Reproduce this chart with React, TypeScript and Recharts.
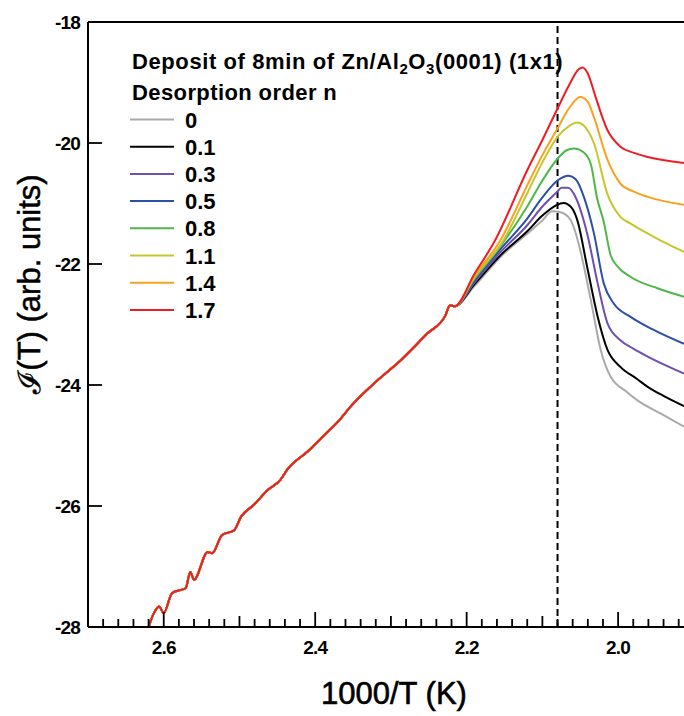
import React from 'react';
import { LineChart, Line, XAxis, YAxis, ReferenceLine, Legend } from 'recharts';

// desorption orders and their trace colours
const orders = ['0', '0.1', '0.3', '0.5', '0.8', '1.1', '1.4', '1.7'];
const colors = ['#aaaaaa', '#000000', '#6f4fb2', '#2c50a8', '#4db848', '#c6c62c', '#f8a11c', '#ee1d25'];

// low-temperature part, common to all orders: [1000/T, J(T)]
const sharedRise = [
  [2.62, -28.0], [2.613, -27.77], [2.606, -27.66], [2.6, -27.77], [2.589, -27.44],
  [2.578, -27.39], [2.571, -27.36], [2.565, -27.09], [2.56, -27.22], [2.542, -26.76],
  [2.536, -26.78], [2.523, -26.48], [2.507, -26.4], [2.498, -26.18], [2.481, -25.98],
  [2.463, -25.74], [2.446, -25.57], [2.437, -25.4], [2.41, -25.1], [2.388, -24.83],
  [2.366, -24.55], [2.357, -24.41], [2.322, -23.97], [2.287, -23.59], [2.252, -23.15],
  [2.228, -22.85], [2.222, -22.68], [2.216, -22.7],
];

// peak and high-temperature part, one per order
const tail0 = [
  [2.19, -22.37], [2.155, -21.88], [2.12, -21.5], [2.1, -21.28], [2.087, -21.13], [2.075, -21.15],
  [2.063, -21.27], [2.057, -21.45], [2.05, -21.77], [2.036, -22.6], [2.023, -23.42], [2.01, -23.86],
  [1.99, -24.1], [1.975, -24.25], [1.944, -24.47], [1.913, -24.69],
];
const tail01 = [
  [2.19, -22.34], [2.155, -21.85], [2.12, -21.46], [2.1, -21.2], [2.082, -21.03], [2.072, -20.99],
  [2.062, -21.06], [2.054, -21.27], [2.041, -22.04], [2.027, -22.87], [2.014, -23.42], [1.997, -23.7],
  [1.975, -23.9], [1.961, -24.03], [1.94, -24.18], [1.913, -24.35],
];
const tail03 = [
  [2.19, -22.31], [2.155, -21.8], [2.12, -21.36], [2.1, -21.05], [2.08, -20.8], [2.075, -20.74],
  [2.066, -20.74], [2.056, -20.9], [2.041, -21.49], [2.027, -22.32], [2.014, -22.98], [1.997, -23.26],
  [1.98, -23.4], [1.961, -23.53], [1.913, -23.81],
];
const tail05 = [
  [2.19, -22.28], [2.155, -21.75], [2.12, -21.25], [2.1, -20.9], [2.08, -20.62], [2.066, -20.54],
  [2.056, -20.6], [2.045, -20.9], [2.032, -21.49], [2.019, -22.32], [2.006, -22.65], [1.984, -22.87],
  [1.953, -23.09], [1.913, -23.32],
];
const tail08 = [
  [2.19, -22.25], [2.155, -21.7], [2.12, -21.05], [2.1, -20.62], [2.08, -20.26], [2.068, -20.12],
  [2.058, -20.09], [2.046, -20.15], [2.036, -20.35], [2.028, -20.9], [2.019, -21.3], [2.01, -21.85],
  [2.0, -22.05], [1.984, -22.21], [1.948, -22.4], [1.913, -22.54],
];
const tail11 = [
  [2.19, -22.22], [2.151, -21.6], [2.12, -20.83], [2.1, -20.32], [2.08, -19.9], [2.065, -19.72],
  [2.054, -19.66], [2.044, -19.73], [2.032, -20.0], [2.014, -20.85], [1.997, -21.22], [1.984, -21.33],
  [1.953, -21.55], [1.913, -21.8],
];
const tail14 = [
  [2.19, -22.2], [2.155, -21.6], [2.12, -20.7], [2.1, -20.2], [2.08, -19.76], [2.065, -19.43],
  [2.05, -19.24], [2.04, -19.32], [2.032, -19.57], [2.014, -20.28], [1.997, -20.67], [1.98, -20.8],
  [1.961, -20.89], [1.913, -21.02],
];
const tail17 = [
  [2.19, -22.17], [2.162, -21.6], [2.12, -20.45], [2.1, -19.95], [2.08, -19.43], [2.065, -19.05],
  [2.052, -18.78], [2.047, -18.75], [2.04, -18.85], [2.03, -19.23], [2.014, -19.79], [1.997, -20.06],
  [1.98, -20.16], [1.961, -20.23], [1.913, -20.33],
];
const tails = [tail0, tail01, tail03, tail05, tail08, tail11, tail14, tail17];

const yTicks = [-28, -26, -24, -22, -20, -18];
const xLabelled = [2.6, 2.4, 2.2, 2.0];
const peakMarker = 2.08;

const xTicks: number[] = [];
for (let h = 192; h <= 270; h += 2) xTicks.push(h / 100);

const font = 'Liberation Sans, Arial, Helvetica, sans-serif';

const series = orders.map((name, i) => ({
  name,
  color: colors[i],
  data: [...sharedRise, ...tails[i]].map(([x, y]) => ({ x, y })),
}));

function XTick({ x, y, payload }: any) {
  const h = Math.round(payload.value * 100);
  const len = h % 20 === 0 ? 15 : h % 10 === 0 ? 11 : 8;
  const labelled = xLabelled.some((v) => Math.round(v * 100) === h);
  return (
    <g>
      <line x1={x} x2={x} y1={y} y2={y - len} stroke="#000" strokeWidth={1.8} />
      {labelled && (
        <text x={x} y={y + 27} textAnchor="middle" fontFamily={font} fontWeight="bold" fontSize={19}
          letterSpacing={-0.8} fill="#000">
          {payload.value.toFixed(1)}
        </text>
      )}
    </g>
  );
}

function YTick({ x, y, payload }: any) {
  return (
    <g>
      <line x1={x} x2={x + 14} y1={y} y2={y} stroke="#000" strokeWidth={1.8} />
      <text x={x - 8} y={y + 7} textAnchor="end" fontFamily={font} fontWeight="bold" fontSize={19}
        letterSpacing={-0.8} fill="#000">
        {payload.value}
      </text>
    </g>
  );
}

function YLabel({ viewBox }: any) {
  const cx = 40;
  const cy = viewBox.y + 262;
  return (
    <text x={cx} y={cy} transform={`rotate(-90 ${cx} ${cy})`} textAnchor="middle" fontFamily={font}
      fontSize={31} fill="#000" stroke="#000" strokeWidth={0.5}>
      ℐ(T) (arb. units)
    </text>
  );
}

function XLabel({ viewBox }: any) {
  return (
    <text x={viewBox.x + viewBox.width / 2 + 8} y={viewBox.y + 77} textAnchor="middle" fontFamily={font}
      fontSize={31} fill="#000" stroke="#000" strokeWidth={0.6}>
      1000/T (K)
    </text>
  );
}

function OrderLegend({ payload }: any) {
  const items = payload || [];
  return (
    <svg width={684} height={330}>
      <text x={132} y={69} fontFamily={font} fontWeight="bold" fontSize={22} letterSpacing={0.6} fill="#000">
        Deposit of 8min of Zn/Al
        <tspan fontSize={15} dy={5}>2</tspan>
        <tspan dy={-5}>O</tspan>
        <tspan fontSize={15} dy={5}>3</tspan>
        <tspan dy={-5}>(0001) (1x1)</tspan>
      </text>
      <text x={132} y={100} fontFamily={font} fontWeight="bold" fontSize={22} letterSpacing={0.4} fill="#000">
        Desorption order n
      </text>
      {items.map((item: any, i: number) => {
        const cy = 119.5 + i * 27.2;
        return (
          <g key={item.value}>
            <line x1={130} x2={174} y1={cy} y2={cy} stroke={item.color} strokeWidth={2} />
            <text x={185} y={cy + 8} fontFamily={font} fontWeight="bold" fontSize={22} fill="#000">
              {item.value}
            </text>
          </g>
        );
      })}
    </svg>
  );
}

export default function App() {
  return (
    <div style={{ position: 'absolute', left: 0, top: 0, background: '#fff' }}>
      <LineChart width={684} height={716} margin={{ top: 22, right: 0, bottom: 0, left: 0 }}>
        <XAxis
          dataKey="x"
          type="number"
          domain={[1.913, 2.7]}
          reversed
          allowDataOverflow
          ticks={xTicks}
          interval={0}
          height={89}
          tickSize={0}
          tickMargin={0}
          tick={<XTick />}
          axisLine={{ stroke: '#000', strokeWidth: 2 }}
          label={<XLabel />}
        />
        <YAxis
          dataKey="y"
          type="number"
          domain={[-28, -18]}
          allowDataOverflow
          ticks={yTicks}
          interval={0}
          width={88}
          tickSize={0}
          tickMargin={0}
          tick={<YTick />}
          axisLine={{ stroke: '#000', strokeWidth: 2 }}
          label={<YLabel />}
        />
        <ReferenceLine y={-18} stroke="#000" strokeWidth={2} />
        <ReferenceLine x={peakMarker} stroke="#000" strokeWidth={2} strokeDasharray="7 4" />
        {series.map((s) => (
          <Line
            key={s.name}
            name={s.name}
            data={s.data}
            dataKey="y"
            type="monotone"
            stroke={s.color}
            strokeWidth={2}
            dot={false}
            activeDot={false}
            isAnimationActive={false}
          />
        ))}
        <Legend
          layout="horizontal"
          verticalAlign="middle"
          align="center"
          wrapperStyle={{ left: 0, top: 0, width: 684, height: 330, pointerEvents: 'none' }}
          content={<OrderLegend />}
        />
      </LineChart>
    </div>
  );
}
